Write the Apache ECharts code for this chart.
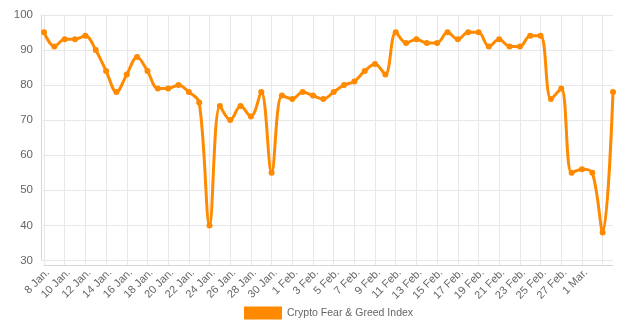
<!DOCTYPE html>
<html>
<head>
<meta charset="utf-8">
<title>Crypto Fear & Greed Index</title>
<script src="https://cdn.jsdelivr.net/npm/echarts@6/dist/echarts.min.js"></script>
<style>
  html, body { margin: 0; padding: 0; background: #fff; }
  #chart { width: 640px; height: 329px; }
</style>
</head>
<body>
<div id="chart"></div>
<script>
const dates = [
  '8 Jan.', '9 Jan.', '10 Jan.', '11 Jan.', '12 Jan.', '13 Jan.', '14 Jan.', '15 Jan.',
  '16 Jan.', '17 Jan.', '18 Jan.', '19 Jan.', '20 Jan.', '21 Jan.', '22 Jan.', '23 Jan.',
  '24 Jan.', '25 Jan.', '26 Jan.', '27 Jan.', '28 Jan.', '29 Jan.', '30 Jan.', '31 Jan.',
  '1 Feb.', '2 Feb.', '3 Feb.', '4 Feb.', '5 Feb.', '6 Feb.', '7 Feb.', '8 Feb.',
  '9 Feb.', '10 Feb.', '11 Feb.', '12 Feb.', '13 Feb.', '14 Feb.', '15 Feb.', '16 Feb.',
  '17 Feb.', '18 Feb.', '19 Feb.', '20 Feb.', '21 Feb.', '22 Feb.', '23 Feb.', '24 Feb.',
  '25 Feb.', '26 Feb.', '27 Feb.', '28 Feb.', '1 Mar.', '2 Mar.', '3 Mar.', '4 Mar.'
];

const fearGreed = [
  95, 91, 93, 93, 94, 90, 84, 78,
  83, 88, 84, 79, 79, 80, 78, 75,
  40, 74, 70, 74, 71, 78, 55, 77,
  76, 78, 77, 76, 78, 80, 81, 84,
  86, 83, 95, 92, 93, 92, 92, 95,
  93, 95, 95, 91, 93, 91, 91, 94,
  94, 76, 79, 55, 56, 55, 38, 78
];

const seriesName = 'Crypto Fear & Greed Index';
const lastLabelIndex = 52;

const gridColor = '#e8e8e8';
const axisColor = '#d6d6d6';
const textColor = '#666';
const lineColor = '#ff8a00';
const fontFamily = '"Liberation Sans", Arial, Helvetica, sans-serif';

const chart = echarts.init(document.getElementById('chart'), null, { renderer: 'canvas' });

const option = {
  animation: false,
  textStyle: { fontFamily: fontFamily },
  grid: {
    left: 44,
    right: 27,
    top: 14.8,
    bottom: 68.5,
    containLabel: false
  },
  legend: {
    data: [seriesName],
    left: 244,
    top: 306.5,
    padding: 0,
    icon: 'rect',
    itemWidth: 38,
    itemHeight: 13,
    itemGap: 10,
    textStyle: { color: textColor, fontSize: 10.5, fontFamily: fontFamily }
  },
  xAxis: {
    type: 'category',
    data: dates,
    boundaryGap: false,
    offset: 4.5,
    axisLine: { show: true, lineStyle: { color: axisColor, width: 1 } },
    axisTick: {
      show: true,
      inside: true,
      length: 4.5,
      interval: (i) => i % 2 === 0,
      lineStyle: { color: gridColor }
    },
    splitLine: {
      show: true,
      interval: (i) => i % 2 === 0,
      lineStyle: { color: gridColor, width: 1 }
    },
    axisLabel: {
      rotate: 45,
      interval: (i) => i % 2 === 0 && i <= lastLabelIndex,
      color: textColor,
      fontSize: 11,
      fontFamily: fontFamily,
      margin: 2,
      verticalAlign: 'top'
    }
  },
  yAxis: {
    type: 'value',
    min: 30,
    max: 100,
    interval: 10,
    offset: 3,
    axisLine: { show: true, lineStyle: { color: axisColor, width: 1 } },
    axisTick: {
      show: true,
      inside: true,
      length: 3,
      lineStyle: { color: gridColor }
    },
    splitLine: { show: true, lineStyle: { color: gridColor, width: 1 } },
    axisLabel: {
      color: textColor,
      fontSize: 11.5,
      fontFamily: fontFamily,
      margin: 8
    }
  },
  series: [
    {
      name: seriesName,
      type: 'line',
      data: fearGreed,
      smooth: 0.35,
      symbol: 'circle',
      symbolSize: 6,
      showSymbol: true,
      lineStyle: { color: lineColor, width: 3 },
      itemStyle: { color: lineColor }
    }
  ]
};

chart.setOption(option);
</script>
</body>
</html>
